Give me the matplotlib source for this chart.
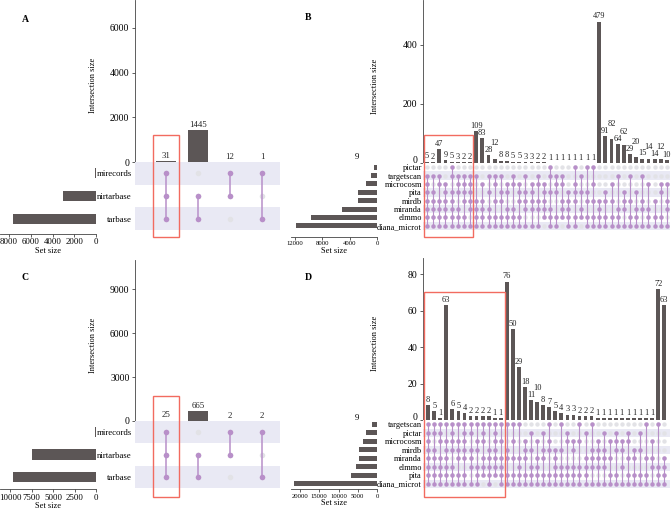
import numpy as np
import matplotlib.pyplot as plt
from matplotlib.patches import Rectangle
from matplotlib.transforms import blended_transform_factory

plt.rcParams['font.family'] = ['Liberation Serif', 'DejaVu Serif']

W, H = 672, 509

# Panel A
a_sets = ['mirecords', 'nirtarbase', 'tarbase']
a_set_size = [90, 3070, 7630]
a_counts = [31, 1445, 12, 1]
a_members = ['111', '011', '110', '101']

# Panel C
c_sets = ['mirecords', 'nirtarbase', 'tarbase']
c_set_size = [90, 7400, 9650]
c_counts = [25, 665, 2, 2]
c_members = ['111', '011', '110', '101']

# Panel B
b_sets = ['pictar', 'targetscan', 'microcosm', 'pita', 'mirdb', 'miranda', 'elmmo', 'diana_microt']
b_set_size = [440, 870, 1600, 2750, 2750, 5100, 9600, 11900]
b_counts = [5, 2, 47, 9, 5, 3, 2, 2,
            109, 83, 28, 12, 8, 8, 5, 5, 3, 3, 2, 2,
            1, 1, 1, 1, 1, 1, 1, 1,
            479, 91, 82, 64, 62, 29, 20, 15, 14, 14, 12, 10]
b_members = ['01111111', '01011111', '01101111', '00111111', '11011111', '01110111', '01111011', '01111101',
             '01001111', '00101111', '01010111', '01101011', '01011011', '00110111', '01100111', '00111011',
             '01011101', '00111101', '01101101', '00111110',
             '11010111', '01110011', '01101110', '00011111', '10111011', '01010110', '10011011', '10101011',
             '00001111', '00011011', '00101011', '01000111', '00011101', '01001011', '00010111', '01001101',
             '00100111', '00001011', '00110011', '00101101']

# Panel D
d_sets = ['targetscan', 'pictar', 'microcosm', 'mirdb', 'miranda', 'elmmo', 'pita', 'diana_microt']
d_set_size = [1300, 2900, 3700, 4700, 4700, 5500, 6800, 21600]
d_counts = [8, 5, 1, 63, 6, 5, 4, 2, 2, 2, 2, 1, 1,
            76, 50, 29, 18, 11, 10, 8, 7, 5, 4, 3, 3, 2, 2, 2,
            1, 1, 1, 1, 1, 1, 1, 1, 1, 1,
            72, 63]
d_members = ['11111111', '11011111', '11101111', '10111111', '11110111', '10111011', '11111011', '11011101',
             '10110111', '11101110', '10011111', '11111110', '10101111',
             '10011011', '10101011', '10001111', '00111011', '01010111', '00101111', '01011011', '10110011',
             '00011111', '10010111', '01100111', '00110111', '10100111', '01001111', '10011101',
             '00111101', '01011101', '00101011', '01110011', '00110101', '01101011', '00011011', '01010011',
             '10001011', '00101101',
             '10000111', '00001111']

BAR = '#5c5656'
DOT_ON = '#b88fc9'
DOT_OFF = '#e2e2e6'
BAND = '#e9e9f4'
BOX = '#f26b60'
AXC = '#444444'

fig = plt.figure(figsize=(W / 100, H / 100), dpi=100)


def px_axes(left, top, right, bottom):
    return fig.add_axes([left / W, 1 - bottom / H, (right - left) / W, (bottom - top) / H])


def upset(sets, set_size, counts, members, lay):
    n = len(sets)
    xs = np.arange(len(counts))
    rows = np.arange(n)[::-1]
    lo, hi = lay['cols']

    # intersection bars
    ax = px_axes(lay['mat_left'], lay['top'], lay['right'], lay['zero'])
    ax.bar(xs, counts, width=lay['bar_w'], color=BAR)
    ax.set_xlim(lo, hi)
    ax.set_ylim(0, lay['int_max'])
    for s in ['top', 'right', 'bottom']:
        ax.spines[s].set_visible(False)
    ax.spines['left'].set_color(AXC)
    ax.spines['left'].set_linewidth(0.6)
    ax.set_xticks([])
    ax.set_yticks(lay['int_ticks'])
    ax.tick_params(axis='y', length=2.5, width=0.6, color=AXC, labelsize=7, pad=1.5)
    if lay['zero_up']:
        ax.get_yticklabels()[0].set_va('baseline')
    ax.set_ylabel('Intersection size', fontsize=6)
    ax.yaxis.set_label_coords(lay['ylab_x'], 0.47)

    # count labels, pushed up when they collide
    wpx = lay['right'] - lay['mat_left']
    hpx = lay['zero'] - lay['top']
    fpx = lay['fs_num'] * 100 / 72
    placed = []
    for i, c in enumerate(counts):
        s = str(c)
        cx = (i - lo) / (hi - lo) * wpx
        hw = len(s) * fpx * 0.25 + 0.4
        th = fpx * 0.78
        y = c / lay['int_max'] * hpx + 1.2
        moved = True
        while moved:
            moved = False
            for l, r, b, t in placed:
                if cx - hw < r and cx + hw > l and y < t and y + th > b:
                    y = t + 0.3
                    moved = True
        placed.append((cx - hw, cx + hw, y, y + th))
        ax.text(i, y / hpx * lay['int_max'], s, ha='center', va='bottom',
                fontsize=lay['fs_num'], color='#222222')

    # matrix
    am = px_axes(lay['mat_left'], lay['zero'], lay['right'], lay['bottom'])
    am.set_xlim(lo, hi)
    am.set_ylim(-0.5, n - 0.5)
    for r in rows:
        if r % 2 == 0:
            am.axhspan(r - 0.5, r + 0.5, color=BAND, lw=0)
    gx, gy = np.meshgrid(xs, rows)
    am.scatter(gx.ravel(), gy.ravel(), s=lay['dot_s'], color=DOT_OFF, lw=0, zorder=2)
    for i, m in enumerate(members):
        on = [rows[k] for k, ch in enumerate(m) if ch == '1']
        am.plot([i, i], [min(on), max(on)], color=DOT_ON, lw=lay['lw'], zorder=3)
        am.scatter([i] * len(on), on, s=lay['dot_s'], color=DOT_ON, lw=0, zorder=4)
    for s in am.spines.values():
        s.set_visible(False)
    am.set_xticks([])
    am.set_yticks(rows)
    am.set_yticklabels(sets, fontsize=lay['fs_set'])
    am.tick_params(axis='y', length=0, pad=lay['set_pad'])

    # set sizes
    ax_s = px_axes(lay['set_left'], lay['zero'], lay['set_right'], lay['bottom'])
    ax_s.barh(rows, set_size, height=lay['set_h'], color=BAR)
    ax_s.set_xlim(lay['set_max'], 0)
    ax_s.set_ylim(-0.5, n - 0.5)
    for s in ['top', 'right', 'left']:
        ax_s.spines[s].set_visible(False)
    ax_s.spines['bottom'].set_position(('outward', lay['spine_out']))
    ax_s.spines['bottom'].set_color(AXC)
    ax_s.spines['bottom'].set_linewidth(0.6)
    ax_s.set_yticks([])
    ax_s.set_xticks(lay['set_ticks'])
    ax_s.tick_params(axis='x', length=2, width=0.6, color=AXC, labelsize=lay['fs_settick'], pad=1)
    ax_s.set_xlabel('Set size', fontsize=6, labelpad=0.5)

    # highlight box
    tr = blended_transform_factory(am.transData, fig.transFigure)
    x0 = lay['box'][0] - lay['box_pad']
    x1 = lay['box'][1] + lay['box_pad']
    fig.add_artist(Rectangle((x0, 1 - lay['box_y'][1] / H), x1 - x0,
                             (lay['box_y'][1] - lay['box_y'][0]) / H,
                             transform=tr, fill=False, ec=BOX, lw=1.0, zorder=10))


small = dict(set_left=0, set_right=96, mat_left=135, right=280, cols=(-0.97, 3.56),
             bar_w=0.62, fs_num=6.3, fs_set=6.3, set_pad=2.2, fs_settick=6.3,
             dot_s=16, lw=1.1, set_h=0.45, ylab_x=-0.26, box=(0, 0), box_pad=0.42, zero_up=False)
big = dict(set_left=291, set_right=377, mat_left=423, right=670,
           bar_w=0.62, fs_num=6, fs_set=6, set_pad=0.8, fs_settick=4.8,
           dot_s=10, lw=0.8, set_h=0.6, ylab_x=-0.18, zero_up=True)

upset(a_sets, a_set_size, a_counts, a_members,
      dict(small, top=0, zero=162, bottom=230, int_max=7250, int_ticks=[0, 2000, 4000, 6000],
           set_max=8840, set_ticks=[8000, 6000, 4000, 2000, 0], spine_out=3, box_y=(135, 237)))
upset(c_sets, c_set_size, c_counts, c_members,
      dict(small, top=260, zero=421, bottom=488, int_max=11000, int_ticks=[0, 3000, 6000, 9000],
           set_max=11180, set_ticks=[10000, 7500, 5000, 2500, 0], spine_out=1, box_y=(396, 497)))
upset(b_sets, b_set_size, b_counts, b_members,
      dict(big, top=0, zero=163, bottom=230, cols=(-0.65, 39.5), int_max=552, int_ticks=[0, 200, 400],
           set_max=12590, set_ticks=[12000, 8000, 4000, 0], spine_out=5,
           box=(0, 7), box_pad=0.5, box_y=(135, 237)))
upset(d_sets, d_set_size, d_counts, d_members,
      dict(big, top=258, zero=420, bottom=488, cols=(-0.85, 39.95), int_max=89,
           int_ticks=[0, 20, 40, 60, 80], set_max=22340, set_ticks=[20000, 15000, 10000, 5000, 0],
           spine_out=1, box=(0, 12), box_pad=0.65, box_y=(292, 497)))

for letter, (px, py) in zip('ABCD', [(25, 19), (308, 18), (25, 278), (308, 278)]):
    fig.text(px / W, 1 - py / H, letter, fontsize=7, fontweight='bold', ha='center', va='center')
for py in [157, 418]:
    fig.text(357 / W, 1 - py / H, '9', fontsize=6.3, ha='center', va='center')

fig.savefig('out.png', dpi=100)
